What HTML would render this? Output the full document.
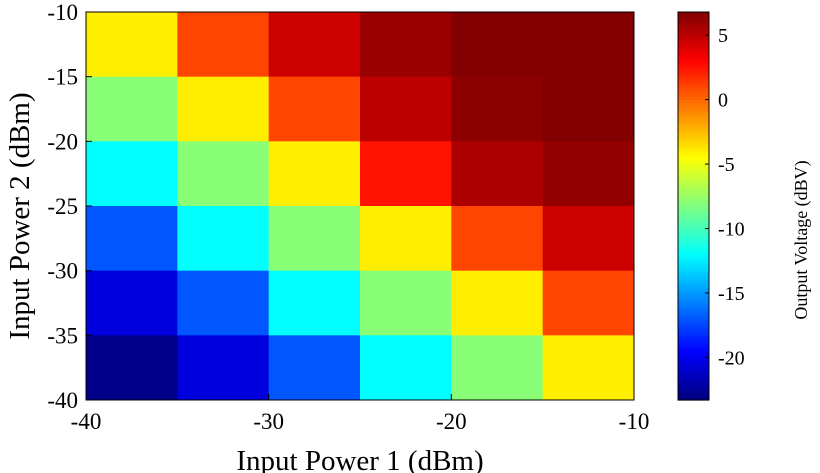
<!DOCTYPE html>
<html><head><meta charset="utf-8"><style>
html,body{margin:0;padding:0;background:#fff;}
svg{display:block;font-family:"Liberation Serif",serif;}
</style></head><body>
<svg id="chart" width="820" height="473" viewBox="0 0 820 473">
<g id="cells"></g>
<g id="axes"></g>
<g id="cbar"></g>
<text x="360" y="470" font-size="29" text-anchor="middle">Input Power 1 (dBm)</text>
<text transform="translate(29,216) rotate(-90)" font-size="29" text-anchor="middle">Input Power 2 (dBm)</text>
<text transform="translate(807,240) rotate(-90)" font-size="18" text-anchor="middle">Output Voltage (dBV)</text>
</svg>
<script>
const xCats = [-40,-35,-30,-25,-20,-15];
const yCats = [-10,-15,-20,-25,-30,-35];
const values = [
 [-4, 1, 4.5, 6, 6.7, 6.7],
 [-8, -4, 1, 5, 6.4, 6.7],
 [-12, -8, -4, 2.5, 5.5, 6.2],
 [-17, -12, -8, -4, 1, 4.5],
 [-20.5, -17, -12, -8, -4, 1],
 [-23, -20.5, -17, -12, -8, -4]
];
const xTicks = [-40,-30,-20,-10];
const yTicks = [-10,-15,-20,-25,-30,-35,-40];
const cTicks = [5,0,-5,-10,-15,-20];
const cMin = -23.3, cMax = 6.8;

const L=86,R=634,T=12,B=400;
const xs = v => L + (v+40)/30*(R-L);
const ys = v => T + (-10 - v)/30*(B-T);
const CL=678,CR=709;
const cs = v => B - (v-cMin)/(cMax-cMin)*(B-T);
function jet(t){
  t=Math.max(0,Math.min(1,t));
  const f=x=>Math.max(0,Math.min(1,x));
  const r=f(1.5-Math.abs(4*t-3)), g=f(1.5-Math.abs(4*t-2)), b=f(1.5-Math.abs(4*t-1));
  return `rgb(${Math.round(r*255)},${Math.round(g*255)},${Math.round(b*255)})`;
}
const NS="http://www.w3.org/2000/svg";
function mk(tag,attrs,parent){const e=document.createElementNS(NS,tag);for(const k in attrs)e.setAttribute(k,attrs[k]);parent.appendChild(e);return e;}
const cells=document.getElementById('cells');
yCats.forEach((yv,i)=>xCats.forEach((xv,j)=>{
  const x0=xs(xv),x1=xs(xv+5),y0=ys(yv),y1=ys(yv-5);
  const r=mk('rect',{x:x0,y:y0,width:x1-x0+0.5,height:y1-y0+0.5,fill:jet((values[i][j]-cMin)/(cMax-cMin))},cells);
  
  
}));
const ax=document.getElementById('axes');
mk('rect',{x:L,y:T,width:R-L,height:B-T,fill:'none',stroke:'#000','stroke-width':1},ax);
xTicks.forEach(v=>{
  mk('line',{x1:xs(v),x2:xs(v),y1:B,y2:B-6,stroke:'#000'},ax);
  const t=mk('text',{x:xs(v),y:B+29,'font-size':23,'text-anchor':'middle'},ax);t.textContent=v;
  
  
});
yTicks.forEach(v=>{
  mk('line',{x1:L,x2:L+6,y1:ys(v),y2:ys(v),stroke:'#000'},ax);
  const t=mk('text',{x:L-8,y:ys(v)+8,'font-size':23,'text-anchor':'end'},ax);t.textContent=v;
  
  
});
const cb=document.getElementById('cbar');
for(let k=0;k<128;k++){
  const y0=T+k*(B-T)/128;
  mk('rect',{x:CL,y:y0,width:CR-CL,height:(B-T)/128+0.6,fill:jet(1-(k+0.5)/128)},cb);
}
mk('rect',{x:CL,y:T,width:CR-CL,height:B-T,fill:'none',stroke:'#000'},cb);
cTicks.forEach(v=>{
  mk('line',{x1:CR-4,x2:CR,y1:cs(v),y2:cs(v),stroke:'#000'},cb);
  const t=mk('text',{x:CR+9,y:cs(v)+7,'font-size':20},cb);t.textContent=v;
  
  
});
</script>
</body></html>
